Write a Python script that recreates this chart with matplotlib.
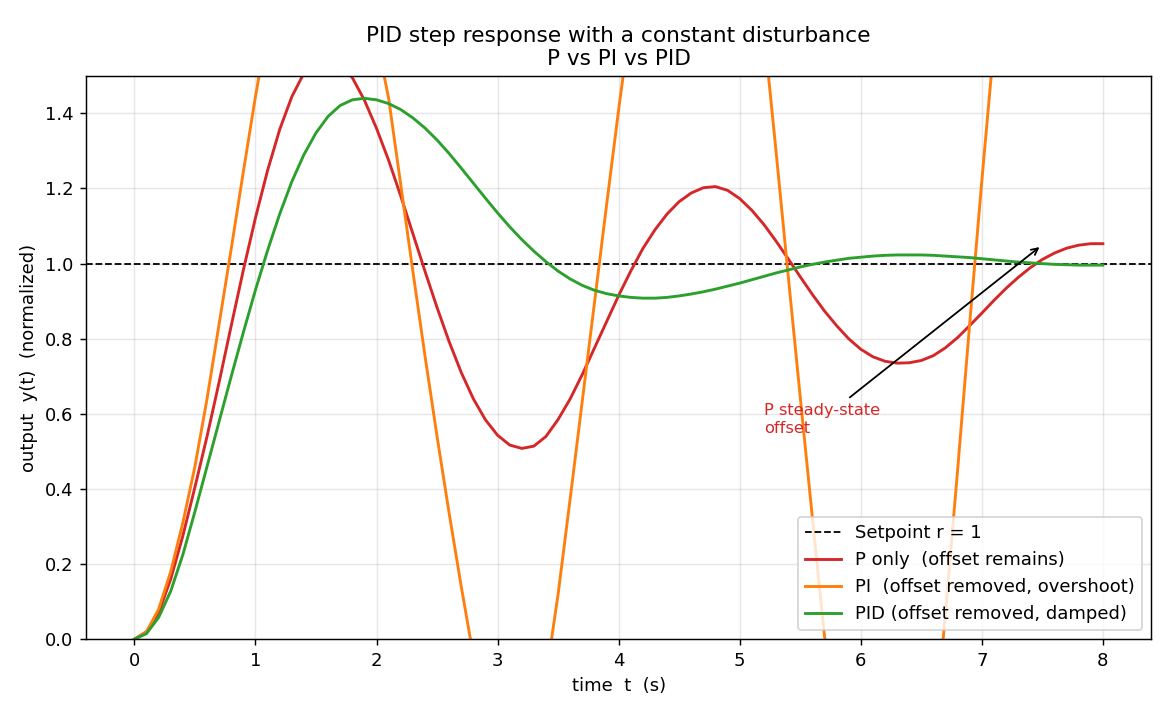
import numpy as np
import matplotlib
matplotlib.use("Agg")
import matplotlib.pyplot as plt

# time axis (s), values read every 0.1 s from the figure
t = np.round(np.arange(0, 81) * 0.1, 1)

# P only (red)
y_p = [0.00, 0.02, 0.07, 0.16, 0.275, 0.405, 0.54, 0.685, 0.835, 0.983,
       1.122, 1.248, 1.357, 1.444, 1.507, 1.542, 1.549, 1.535, 1.495, 1.435,
       1.36, 1.275, 1.18, 1.08, 0.98, 0.883, 0.792, 0.71, 0.64, 0.584,
       0.543, 0.517, 0.508, 0.514, 0.54, 0.585, 0.64, 0.705, 0.775, 0.845,
       0.915, 0.98, 1.04, 1.09, 1.132, 1.165, 1.188, 1.202, 1.205, 1.195,
       1.173, 1.142, 1.104, 1.06, 1.013, 0.965, 0.918, 0.874, 0.835, 0.80,
       0.772, 0.752, 0.74, 0.735, 0.736, 0.742, 0.755, 0.776, 0.803, 0.835,
       0.868, 0.902, 0.934, 0.963, 0.989, 1.011, 1.028, 1.041, 1.049, 1.053,
       1.053]

# PI (orange) - swings far outside the visible range
y_pi = [0.00, 0.02, 0.08, 0.18, 0.31, 0.46, 0.64, 0.84, 1.04, 1.245,
        1.445, 1.63, 1.78, 1.89, 1.97, 2.01, 2.01, 1.97, 1.88, 1.74,
        1.60, 1.44, 1.21, 0.98, 0.755, 0.54, 0.335, 0.14, -0.045, -0.21,
        -0.34, -0.39, -0.35, -0.24, -0.10, 0.12, 0.375, 0.635, 0.895, 1.155,
        1.41, 1.65, 1.87, 2.05, 2.20, 2.31, 2.37, 2.38, 2.33, 2.22,
        2.06, 1.86, 1.62, 1.30, 0.97, 0.645, 0.325, 0.01, -0.28, -0.50,
        -0.67, -0.78, -0.82, -0.78, -0.65, -0.47, -0.29, 0.07, 0.45, 0.84,
        1.22, 1.58, 1.93, 2.25, 2.52, 2.75, 2.92, 3.02, 3.05, 3.00,
        2.88]

# PID (green)
y_pid = [0.00, 0.015, 0.058, 0.128, 0.225, 0.34, 0.46, 0.58, 0.70, 0.817,
         0.93, 1.035, 1.132, 1.218, 1.29, 1.348, 1.392, 1.421, 1.436, 1.44,
         1.436, 1.426, 1.41, 1.388, 1.361, 1.329, 1.293, 1.254, 1.214, 1.174,
         1.135, 1.098, 1.064, 1.033, 1.005, 0.98, 0.959, 0.942, 0.929, 0.92,
         0.914, 0.91, 0.908, 0.908, 0.91, 0.914, 0.919, 0.925, 0.932, 0.94,
         0.948, 0.957, 0.966, 0.975, 0.983, 0.991, 0.998, 1.004, 1.009, 1.014,
         1.017, 1.02, 1.022, 1.023, 1.023, 1.023, 1.022, 1.02, 1.018, 1.016,
         1.013, 1.01, 1.007, 1.004, 1.002, 1.00, 0.998, 0.997, 0.996, 0.996,
         0.996]

setpoint = 1.0

fig, ax = plt.subplots(figsize=(9, 5.5), dpi=130)
fig.subplots_adjust(left=0.0735, right=0.984, top=0.894, bottom=0.106)

ax.axhline(setpoint, color='black', linestyle='--', linewidth=1.0, label='Setpoint r = 1')
ax.plot(t, y_p, color='tab:red', linewidth=1.6, label='P only  (offset remains)')
ax.plot(t, y_pi, color='tab:orange', linewidth=1.6, label='PI  (offset removed, overshoot)')
ax.plot(t, y_pid, color='tab:green', linewidth=1.6, label='PID (offset removed, damped)')

ax.set_xlim(-0.4, 8.4)
ax.set_ylim(0, 1.5)
ax.grid(True, alpha=0.3)

ax.set_title('PID step response with a constant disturbance\nP vs PI vs PID', fontsize=12)
ax.set_xlabel('time  t  (s)')
ax.set_ylabel('output  y(t)  (normalized)')

ax.annotate('P steady-state\noffset', xy=(7.5, 1.05), xytext=(5.2, 0.55),
            color='tab:red', fontsize=9,
            arrowprops=dict(arrowstyle='->', color='black', lw=1.0))

ax.legend(loc='lower right')

fig.savefig('out.png')
